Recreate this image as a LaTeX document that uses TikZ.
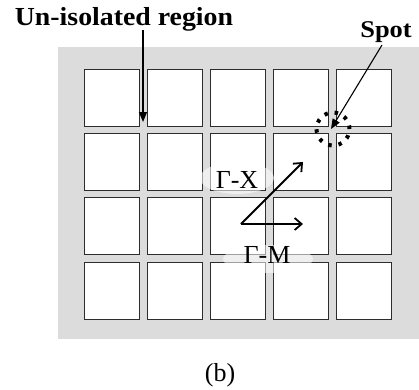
\documentclass[tikz,border=0pt]{standalone}
\usepackage{fontspec}
\setmainfont{Liberation Serif}
\usetikzlibrary{arrows.meta,shapes.geometric}
\definecolor{panel}{RGB}{220,220,220}
\definecolor{cellline}{RGB}{45,45,45}
\tikzset{
  cell/.style={draw=cellline,line width=1.2pt,fill=white,minimum width=55pt,minimum height=57pt,inner sep=0pt,anchor=north west},
  callout/.style={line width=1.1pt,-{Triangle[length=10pt,width=8pt]}},
  dirarrow/.style={line width=1.8pt,-{Straight Barb[length=7pt,width=12pt,line width=1.8pt]}},
  glow/.style={fill=white,fill opacity=0.55,draw=none,ellipse},
  title/.style={font=\fontsize{26}{28}\selectfont\bfseries,inner sep=0pt,anchor=base},
  dlabel/.style={font=\fontsize{26}{28}\selectfont,inner sep=0pt,anchor=base},
}
\begin{document}
\begin{tikzpicture}[x=1pt,y=-1pt]
\useasboundingbox (0,0) rectangle (419,389);
\fill[panel] (58,47) rectangle (419,339);
\foreach \c/\x in {1/84,2/147,3/210,4/273,5/336}{
  \foreach \r/\y in {1/69,2/133,3/197,4/262}{
    \node[cell] (s-\r-\c) at (\x,\y) {};
  }
}
% glows
\node[glow,minimum width=74pt,minimum height=32pt] (gx) at (237,178) {};
\node[glow,minimum width=90pt,minimum height=28pt] (gm) at (268,259) {};
% titles
\node[title,xscale=1.07] (unl) at (124,25) {Un-isolated region};
\node[title,font=\fontsize{24}{26}\selectfont\bfseries,xscale=1.1] (spotl) at (386,37) {Spot};
% spot marker
\node[draw=black,circle,minimum size=33pt,inner sep=0pt,line width=4pt,dash pattern=on 3.5pt off 6.9pt] (spot) at (333,129) {};
\coordinate (unltip) at (143,122);
\coordinate (spottip) at (331,129);
\draw[callout] (143,30) -- (unltip);
\draw[callout] (382,45) -- (spottip);
% directions
\coordinate (gamma) at (241,224);
\coordinate (xtip) at (303,162);
\coordinate (mtip) at (303,224);
\draw[dirarrow] (gamma) -- (xtip);
\draw[dirarrow] (gamma) -- (mtip);
\node[dlabel] (gxl) at (237,188) {Γ-X};
\node[dlabel] (gml) at (267,263) {Γ-M};
\node[font=\fontsize{26}{28}\selectfont,inner sep=0pt,anchor=base] (cap) at (220,381) {(b)};
\end{tikzpicture}
\end{document}
